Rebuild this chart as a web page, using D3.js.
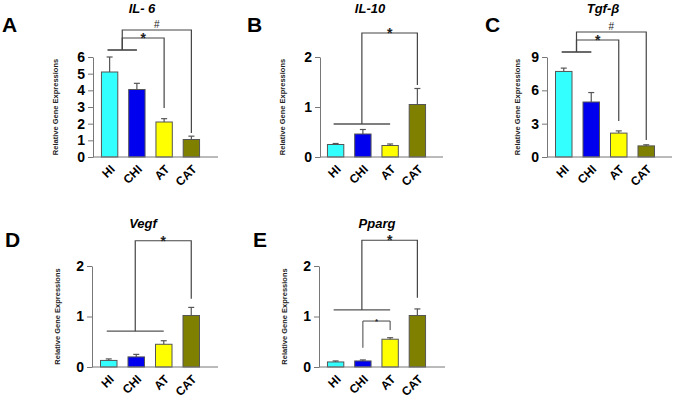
<!DOCTYPE html>
<html>
<head>
<meta charset="utf-8">
<script src="https://cdn.jsdelivr.net/npm/d3@7"></script>
<style>
  body { margin: 0; background: #fff; }
  svg { display: block; font-family: Arial, "Liberation Sans", sans-serif; }
</style>
</head>
<body>
<svg id="chart" width="675" height="400"></svg>
<script>
// groups on the x axis
const categories = ['HI', 'CHI', 'AT', 'CAT'];
const barColors = ['#33ffff', '#0000ee', '#ffff00', '#808000'];

// means and SEM
const il6Means = [5.1, 4.05, 2.1, 1.05];
const il6Err = [0.9, 0.37, 0.2, 0.2];
const il10Means = [0.25, 0.46, 0.23, 1.05];
const il10Err = [0.02, 0.09, 0.03, 0.32];
const tgfMeans = [7.7, 4.95, 2.15, 1.0];
const tgfErr = [0.3, 0.85, 0.2, 0.1];
const vegfMeans = [0.13, 0.2, 0.45, 1.02];
const vegfErr = [0.03, 0.05, 0.07, 0.16];
const ppargMeans = [0.1, 0.12, 0.55, 1.02];
const ppargErr = [0.02, 0.02, 0.03, 0.13];

// y tick labels
const il6Ticks = [0, 1, 2, 3, 4, 5, 6];
const il10Ticks = [0, 1, 2];
const tgfTicks = [0, 3, 6, 9];
const vegfTicks = [0, 1, 2];
const ppargTicks = [0, 1, 2];

// significance brackets: group (bars from..to), base line value, top value, target bar, end value
const il6Sig = [
  {group: [0, 1], base: 6.42, top: 7.14, to: 2, end: 2.94, mark: '*'},
  {group: [0, 1], base: 6.42, top: 7.62, to: 3, end: 1.44, mark: '#'}
];
const il10Sig = [{group: [0, 2], base: 0.66, top: 2.48, to: 3, end: 1.44, mark: '*'}];
const tgfSig = [
  {group: [0, 1], base: 9.45, top: 10.53, to: 2, end: 3.24, mark: '*'},
  {group: [0, 1], base: 9.45, top: 11.25, to: 3, end: 1.53, mark: '#'}
];
const vegfSig = [{group: [0, 2], base: 0.71, top: 2.5, to: 3, end: 1.35, mark: '*'}];
const ppargSig = [
  {group: [0, 2], base: 1.13, top: 2.51, to: 3, end: 1.37, mark: '*'},
  {group: [1, 1], base: 0.38, top: 0.91, to: 2, end: 0.73, mark: '*', small: true, noLine: true}
];

const panels = [
  {letter: 'A', title: 'IL- 6', means: il6Means, err: il6Err, ticks: il6Ticks, sig: il6Sig,
   ax: 93, x0: 96, x1: 205, xEnd: 218, top: 57, bottom: 157, lx: 2, titleX: 142, titleY: 13, ylx: 58},
  {letter: 'B', title: 'IL-10', means: il10Means, err: il10Err, ticks: il10Ticks, sig: il10Sig,
   ax: 320, x0: 322, x1: 431, xEnd: 443, top: 57, bottom: 157, lx: 247, titleX: 370, titleY: 13, ylx: 285},
  {letter: 'C', title: 'Tgf-β', means: tgfMeans, err: tgfErr, ticks: tgfTicks, sig: tgfSig,
   ax: 547, x0: 550, x1: 660, xEnd: 672, top: 57, bottom: 157, lx: 485, titleX: 603, titleY: 13, ylx: 520},
  {letter: 'D', title: 'Vegf', means: vegfMeans, err: vegfErr, ticks: vegfTicks, sig: vegfSig,
   ax: 92, x0: 95, x1: 205, xEnd: 218, top: 266, bottom: 367, lx: 5, titleX: 143, titleY: 228, ylx: 60},
  {letter: 'E', title: 'Pparg', means: ppargMeans, err: ppargErr, ticks: ppargTicks, sig: ppargSig,
   ax: 319, x0: 322, x1: 431, xEnd: 445, top: 266, bottom: 367, lx: 253, titleX: 377, titleY: 228, ylx: 287}
];

const svg = d3.select('#chart');

panels.forEach(p => {
  const g = svg.append('g');
  const maxTick = p.ticks[p.ticks.length - 1];

  const x = d3.scaleBand().domain(categories).range([p.x0, p.x1]).paddingInner(0.4).paddingOuter(0.2);
  const y = d3.scaleLinear().domain([0, maxTick]).range([p.bottom, p.top]);
  const cx = i => x(categories[i]) + x.bandwidth() / 2;

  // panel letter
  g.append('text')
    .attr('x', p.lx)
    .attr('y', p.titleY + 19)
    .attr('font-size', 21).attr('font-weight', 'bold')
    .text(p.letter);

  // title
  g.append('text')
    .attr('x', p.titleX).attr('y', p.titleY)
    .attr('text-anchor', 'middle')
    .attr('font-size', 13).attr('font-weight', 'bold').attr('font-style', 'italic')
    .text(p.title);

  // bars
  g.selectAll('rect.bar')
    .data(p.means)
    .enter()
    .append('rect')
    .attr('class', 'bar')
    .attr('x', (d, i) => x(categories[i]))
    .attr('y', d => y(d))
    .attr('width', x.bandwidth())
    .attr('height', d => p.bottom - y(d))
    .attr('fill', (d, i) => barColors[i])
    .attr('stroke', '#555')
    .attr('stroke-width', 1);

  // error bars
  const eb = g.selectAll('g.err')
    .data(p.means)
    .enter()
    .append('g')
    .attr('stroke', '#555')
    .attr('stroke-width', 1.2);
  eb.append('line')
    .attr('x1', (d, i) => cx(i)).attr('x2', (d, i) => cx(i))
    .attr('y1', d => y(d)).attr('y2', (d, i) => y(d + p.err[i]));
  eb.append('line')
    .attr('x1', (d, i) => cx(i) - 3).attr('x2', (d, i) => cx(i) + 3)
    .attr('y1', (d, i) => y(d + p.err[i])).attr('y2', (d, i) => y(d + p.err[i]));

  // axes
  const yAxis = g.append('g')
    .attr('transform', `translate(${p.ax},0)`)
    .call(d3.axisLeft(y).tickValues(p.ticks).tickFormat(d3.format('d'))
      .tickSize(5).tickPadding(3).tickSizeOuter(0));
  yAxis.select('.domain').attr('stroke', '#777');
  yAxis.selectAll('.tick line').attr('stroke', '#777');
  yAxis.selectAll('.tick text')
    .attr('font-size', 14).attr('font-weight', 'bold')
    .attr('font-family', 'Arial, "Liberation Sans", sans-serif').attr('fill', '#000');

  g.append('line')
    .attr('x1', p.ax).attr('x2', p.xEnd)
    .attr('y1', p.bottom).attr('y2', p.bottom)
    .attr('stroke', '#777').attr('stroke-width', 1);

  // x labels, rotated
  g.selectAll('text.xl')
    .data(categories)
    .enter()
    .append('text')
    .attr('class', 'xl')
    .attr('transform', (d, i) => `translate(${cx(i) + 3},${p.bottom + 10}) rotate(-45)`)
    .attr('text-anchor', 'end')
    .attr('dy', '0.35em')
    .attr('font-size', 12).attr('font-weight', 'bold')
    .text(d => d);

  // y label
  g.append('text')
    .attr('transform', `translate(${p.ylx},${(p.top + p.bottom) / 2}) rotate(-90)`)
    .attr('text-anchor', 'middle')
    .attr('font-size', 7.5).attr('font-weight', 'bold').attr('fill', '#222')
    .text('Relative Gene Expressions');

  // significance brackets
  p.sig.forEach(s => {
    const gx0 = cx(s.group[0]) - 2;
    const gx1 = cx(s.group[1]);
    const mid = s.noLine ? cx(s.group[0]) : (gx0 + gx1) / 2;
    const tx = cx(s.to);
    if (!s.noLine) {
      g.append('line')
        .attr('x1', gx0).attr('x2', gx1)
        .attr('y1', y(s.base)).attr('y2', y(s.base))
        .attr('stroke', '#555').attr('stroke-width', 1.3);
    }
    g.append('path')
      .attr('d', `M${mid},${y(s.base)}V${y(s.top)}H${tx}V${y(s.end)}`)
      .attr('fill', 'none')
      .attr('stroke', '#444')
      .attr('stroke-width', s.small ? 1 : 1.2);
    g.append('text')
      .attr('x', (mid + tx) / 2)
      .attr('y', y(s.top) + (s.mark === '*' ? (s.small ? 3 : 5) : -2))
      .attr('text-anchor', 'middle')
      .attr('font-size', s.small ? 8 : (s.mark === '*' ? 14 : 10))
      .attr('font-weight', s.mark === '*' ? 'bold' : 'normal')
      .attr('fill', '#222')
      .text(s.mark);
  });
});
</script>
</body>
</html>
